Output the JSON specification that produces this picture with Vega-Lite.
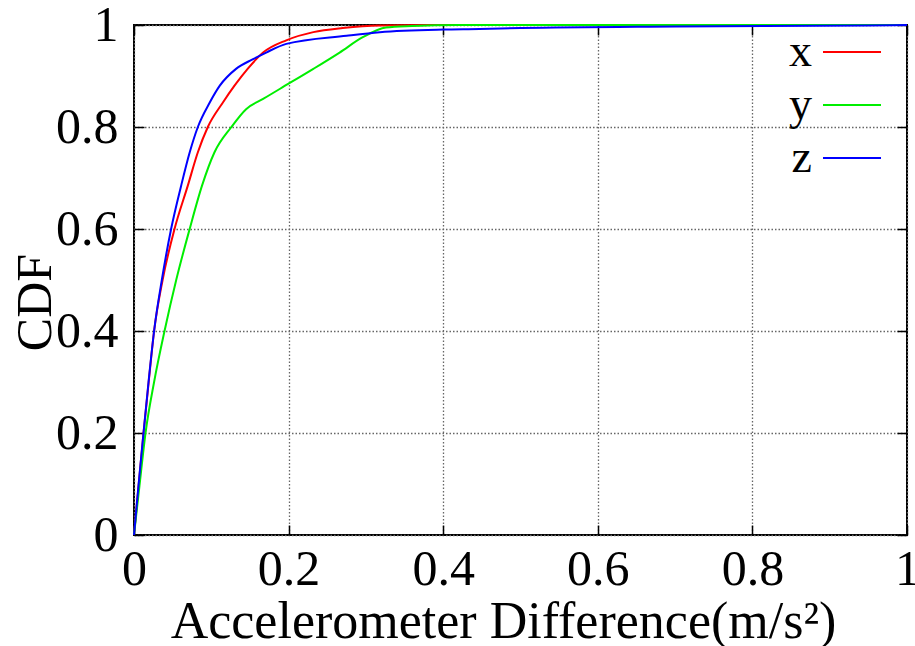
{
  "$schema": "https://vega.github.io/schema/vega-lite/v6.json",
  "width": 773,
  "height": 510,
  "autosize": {"type": "none"},
  "padding": {"left": 134, "top": 25, "right": 8, "bottom": 111},
  "background": "white",
  "config": {
    "view": {"stroke": "black", "strokeWidth": 2},
    "font": "Liberation Serif",
    "axis": {
      "labelFont": "Liberation Serif",
      "titleFont": "Liberation Serif",
      "labelFontSize": 50,
      "titleFontSize": 50,
      "labelColor": "black",
      "titleColor": "black",
      "titleFontWeight": "normal",
      "domain": false,
      "tickColor": "black",
      "tickWidth": 1.5,
      "tickSize": -10,
      "gridColor": "#666666",
      "gridDash": [1.5, 2],
      "gridWidth": 1.3,
      "gridOpacity": 1
    }
  },
  "data": {
    "values": [
      {"axis": "x", "d": 0, "cdf": 0},
      {"axis": "x", "d": 0.006, "cdf": 0.097},
      {"axis": "x", "d": 0.0123, "cdf": 0.2},
      {"axis": "x", "d": 0.019, "cdf": 0.3},
      {"axis": "x", "d": 0.026, "cdf": 0.4},
      {"axis": "x", "d": 0.037, "cdf": 0.5},
      {"axis": "x", "d": 0.0524, "cdf": 0.6},
      {"axis": "x", "d": 0.0696, "cdf": 0.685},
      {"axis": "x", "d": 0.0825, "cdf": 0.75},
      {"axis": "x", "d": 0.0955, "cdf": 0.8},
      {"axis": "x", "d": 0.115, "cdf": 0.848},
      {"axis": "x", "d": 0.13, "cdf": 0.881},
      {"axis": "x", "d": 0.147, "cdf": 0.914},
      {"axis": "x", "d": 0.167, "cdf": 0.946},
      {"axis": "x", "d": 0.197, "cdf": 0.97},
      {"axis": "x", "d": 0.232, "cdf": 0.986},
      {"axis": "x", "d": 0.27, "cdf": 0.994},
      {"axis": "x", "d": 0.318, "cdf": 0.999},
      {"axis": "x", "d": 0.4, "cdf": 1},
      {"axis": "x", "d": 1, "cdf": 1},
      {"axis": "y", "d": 0, "cdf": 0},
      {"axis": "y", "d": 0.0071, "cdf": 0.097},
      {"axis": "y", "d": 0.0149, "cdf": 0.2},
      {"axis": "y", "d": 0.026, "cdf": 0.3},
      {"axis": "y", "d": 0.0395, "cdf": 0.4},
      {"axis": "y", "d": 0.0546, "cdf": 0.5},
      {"axis": "y", "d": 0.072, "cdf": 0.6},
      {"axis": "y", "d": 0.088, "cdf": 0.685},
      {"axis": "y", "d": 0.104, "cdf": 0.75},
      {"axis": "y", "d": 0.126, "cdf": 0.8},
      {"axis": "y", "d": 0.145, "cdf": 0.835},
      {"axis": "y", "d": 0.167, "cdf": 0.855},
      {"axis": "y", "d": 0.189, "cdf": 0.875},
      {"axis": "y", "d": 0.232, "cdf": 0.914},
      {"axis": "y", "d": 0.266, "cdf": 0.946},
      {"axis": "y", "d": 0.296, "cdf": 0.976},
      {"axis": "y", "d": 0.326, "cdf": 0.995},
      {"axis": "y", "d": 0.36, "cdf": 0.998},
      {"axis": "y", "d": 0.42, "cdf": 1},
      {"axis": "y", "d": 1, "cdf": 1},
      {"axis": "z", "d": 0, "cdf": 0},
      {"axis": "z", "d": 0.0058, "cdf": 0.097},
      {"axis": "z", "d": 0.0123, "cdf": 0.2},
      {"axis": "z", "d": 0.0188, "cdf": 0.3},
      {"axis": "z", "d": 0.026, "cdf": 0.4},
      {"axis": "z", "d": 0.036, "cdf": 0.5},
      {"axis": "z", "d": 0.048, "cdf": 0.6},
      {"axis": "z", "d": 0.061, "cdf": 0.685},
      {"axis": "z", "d": 0.072, "cdf": 0.75},
      {"axis": "z", "d": 0.0826, "cdf": 0.8},
      {"axis": "z", "d": 0.098, "cdf": 0.848},
      {"axis": "z", "d": 0.111, "cdf": 0.881},
      {"axis": "z", "d": 0.132, "cdf": 0.914},
      {"axis": "z", "d": 0.154, "cdf": 0.933},
      {"axis": "z", "d": 0.171, "cdf": 0.946},
      {"axis": "z", "d": 0.197, "cdf": 0.963},
      {"axis": "z", "d": 0.275, "cdf": 0.979},
      {"axis": "z", "d": 0.318, "cdf": 0.986},
      {"axis": "z", "d": 0.4, "cdf": 0.991},
      {"axis": "z", "d": 0.447, "cdf": 0.992},
      {"axis": "z", "d": 0.5, "cdf": 0.994},
      {"axis": "z", "d": 0.7, "cdf": 0.997},
      {"axis": "z", "d": 0.95, "cdf": 0.999},
      {"axis": "z", "d": 1, "cdf": 1}
    ]
  },
  "layer": [
    {
      "mark": {"type": "line", "strokeWidth": 2, "interpolate": "monotone"},
      "encoding": {
        "x": {
          "field": "d", "type": "quantitative",
          "scale": {"domain": [0, 1], "nice": false},
          "axis": {
            "orient": "bottom",
            "values": [0, 0.2, 0.4, 0.6, 0.8, 1],
            "format": "~g",
            "labelPadding": 19,
            "labelBaseline": "top",
            "labelFlush": false,
            "title": "Accelerometer Difference(m/s²)",
            "titleFontSize": 52,
            "titleX": 369,
            "titleY": 102,
            "titleBaseline": "alphabetic",
            "titleAnchor": "middle",
            "titleAlign": "center"
          }
        },
        "y": {
          "field": "cdf", "type": "quantitative",
          "scale": {"domain": [0, 1], "nice": false},
          "axis": {
            "orient": "left",
            "values": [0, 0.2, 0.4, 0.6, 0.8, 1],
            "format": "~g",
            "labelPadding": 26,
            "labelFlush": false,
            "title": "CDF",
            "titleX": -99,
            "titleY": 277,
            "titleAngle": -90,
            "titleBaseline": "middle",
            "titleAlign": "center"
          }
        },
        "color": {
          "field": "axis", "type": "nominal",
          "scale": {"domain": ["x", "y", "z"], "range": ["#ff0000", "#00ee00", "#0000ff"]},
          "legend": {
            "orient": "none",
            "legendX": 688,
            "legendY": -3,
            "title": null,
            "symbolType": "stroke",
            "symbolSize": 3364,
            "symbolStrokeWidth": 2,
            "symbolOpacity": 1,
            "labelFont": "Liberation Serif",
            "labelFontSize": 46,
            "labelColor": "black",
            "labelAlign": "right",
            "labelBaseline": "middle",
            "labelOffset": -70,
            "rowPadding": 0,
            "padding": 0
          }
        }
      }
    },
    {
      "mark": {"type": "line", "strokeOpacity": 0},
      "encoding": {
        "x": {
          "field": "d", "type": "quantitative",
          "axis": {
            "orient": "top", "values": [0, 0.2, 0.4, 0.6, 0.8, 1],
            "labels": false, "grid": false, "title": null
          }
        },
        "y": {
          "field": "cdf", "type": "quantitative",
          "axis": {
            "orient": "right", "values": [0, 0.2, 0.4, 0.6, 0.8, 1],
            "labels": false, "grid": false, "title": null
          }
        }
      }
    }
  ],
  "resolve": {"axis": {"x": "independent", "y": "independent"}}
}
